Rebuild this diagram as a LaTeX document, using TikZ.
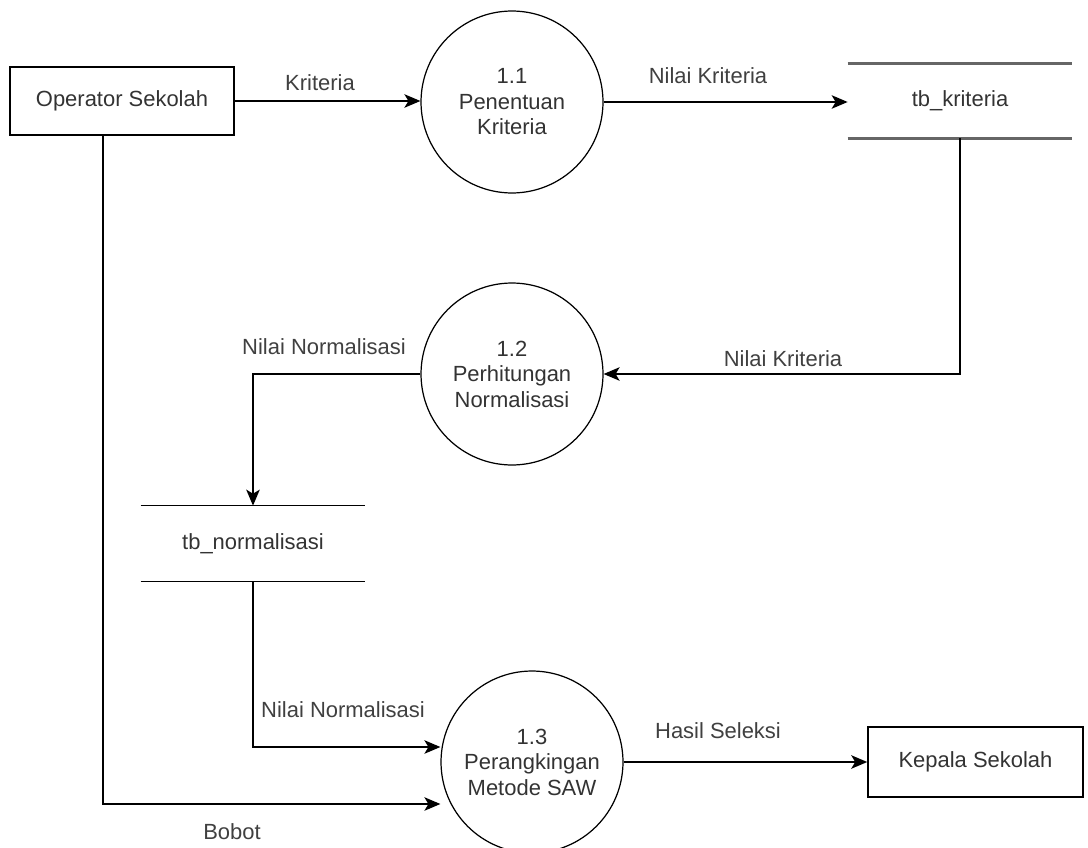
\documentclass[tikz,border=0pt]{standalone}
\usepackage{fontspec}
\setmainfont{Liberation Sans}
\usetikzlibrary{arrows.meta,calc}

\begin{document}
\begin{tikzpicture}[x=0.02cm,y=-0.02cm,
    font=\fontsize{12.5}{14.5}\selectfont,
    entity/.style={draw, line width=0.9pt, minimum width=4.48cm, minimum height=1.36cm, text=black!80},
    process/.style={draw, circle, line width=0.7pt, minimum size=3.64cm, inner sep=0pt, align=center, text=black!80},
    store/.style={minimum width=4.48cm, minimum height=1.48cm, inner sep=0pt, text=black!80},
    flowlabel/.style={text=black!75},
    flow/.style={draw, line width=0.9pt, -{Stealth[length=0.32cm,width=0.27cm,inset=0.08cm]}}]
	\useasboundingbox (0,0) rectangle (1088,848);

	% external entities
	\node[entity] (op) at (122,101) {Operator Sekolah};
	\node[entity, minimum width=4.3cm, minimum height=1.4cm] (kep) at (975.5,762) {Kepala Sekolah};

	% processes
	\node[process] (p11) at (512,102) {1.1\\Penentuan\\Kriteria};
	\node[process] (p12) at (512,374) {1.2\\Perhitungan\\Normalisasi};
	\node[process] (p13) at (532,762) {1.3\\Perangkingan\\Metode SAW};

	% data stores
	\node[store] (tbk) at (960,101) {tb\_kriteria};
	\node[store, minimum height=1.5cm] (tbn) at (253,543.5) {tb\_normalisasi};
	\draw[line width=1.4pt, black!60] (tbk.north west) -- (tbk.north east)
	    (tbk.south west) -- (tbk.south east);
	\draw[line width=0.9pt] (tbn.north west) -- (tbn.north east)
	    (tbn.south west) -- (tbn.south east);

	% flows
	\draw[flow] (op.east) -- (p11.west |- op.east);
	\draw[flow] (p11.east) -- (tbk.west |- p11.east);
	\draw[flow] (tbk.south) |- (p12.east);
	\draw[flow] (p12.west) -| (tbn.north);
	\draw[flow] (tbn.south) |- (p13.west |- 0,747);
	\draw[flow] ($(op.south)+(-19,0)$) |- (p13.west |- 0,804);
	\draw[flow] (p13.east) -- (kep.west);

	% flow labels
	\node[flowlabel] (lkrit) at (320,83) {Kriteria};
	\node[flowlabel] (lnk1) at (708,76) {Nilai Kriteria};
	\node[flowlabel] (lnk2) at (783,359) {Nilai Kriteria};
	\node[flowlabel] (lnn1) at (324,347) {Nilai Normalisasi};
	\node[flowlabel] (lnn2) at (343,710) {Nilai Normalisasi};
	\node[flowlabel] (lbobot) at (232,832) {Bobot};
	\node[flowlabel] (lhasil) at (718,731) {Hasil Seleksi};
\end{tikzpicture}
\end{document}
